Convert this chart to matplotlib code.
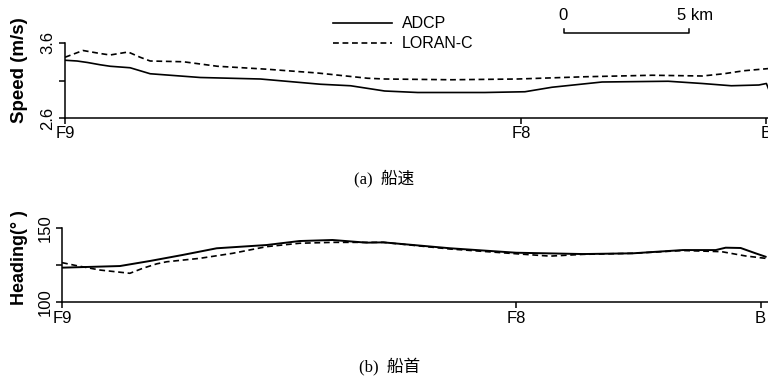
import matplotlib.pyplot as plt
import matplotlib.transforms as mtransforms
from matplotlib.lines import Line2D

plt.rcParams['font.family'] = ['Liberation Sans', 'Noto Sans CJK JP']

# distance along track from F9 (km)
station_pos = [0.0, 18.2, 28.0]
station_names = ['F9', 'F8', 'B']

# (a) ship speed, m/s
speed_km_adcp = [0.0, 0.48, 0.9, 1.4, 1.8, 2.2, 2.6, 2.9, 3.4, 5.4, 7.8, 10.2, 11.4,
                 12.76, 14.08, 16.76, 18.36, 19.44, 21.44, 24.08, 25.44, 26.6, 27.7,
                 28.0, 28.12]
speed_adcp = [3.37, 3.36, 3.34, 3.31, 3.29, 3.28, 3.27, 3.24, 3.19, 3.14, 3.12, 3.05, 3.03,
              2.96, 2.94, 2.94, 2.95, 3.01, 3.08, 3.09, 3.06, 3.03, 3.04,
              3.06, 2.96]
speed_km_loran = [0.0, 0.72, 1.4, 1.8, 2.52, 3.0, 3.4, 4.72, 6.08, 8.08, 10.08, 12.08,
                  12.76, 15.44, 18.08, 20.76, 23.44, 25.44, 26.3, 27.1, 28.12]
speed_loran = [3.41, 3.50, 3.46, 3.44, 3.48, 3.41, 3.36, 3.35, 3.29, 3.25, 3.20, 3.13,
               3.12, 3.11, 3.12, 3.15, 3.17, 3.16, 3.19, 3.23, 3.26]

# (b) ship heading, deg
head_km_adcp = [0.0, 2.32, 3.52, 4.84, 6.2, 8.2, 9.52, 10.84, 12.2, 12.88, 15.56, 18.2,
                20.88, 22.88, 24.88, 26.2, 26.6, 27.2, 27.8, 28.2]
head_adcp = [123.4, 124.5, 127.9, 132.0, 136.5, 138.7, 141.4, 142.1, 140.3, 140.5, 136.5,
             133.5, 132.6, 133.1, 135.3, 135.3, 136.9, 136.7, 133.1, 130.8]
head_km_loran = [0.0, 0.6, 1.52, 2.72, 3.24, 3.8, 4.2, 5.52, 6.84, 8.2, 9.52, 10.84, 12.88,
                 15.56, 18.2, 19.56, 20.88, 22.88, 24.88, 26.44, 27.4, 28.2]
head_loran = [126.8, 124.7, 121.8, 119.6, 123.0, 126.0, 127.4, 129.7, 133.1, 137.6, 139.9,
              140.5, 140.5, 136.0, 132.8, 131.2, 132.4, 133.1, 135.0, 134.2, 131.3, 129.7]

W, H = 768, 380


def fx(px):
    return px / W


def fy(py):
    return 1 - py / H


fig = plt.figure(figsize=(W / 100, H / 100), dpi=100)

xmax = 28.6
ax1 = fig.add_axes([fx(65), fy(118), xmax * 25.05 / W, 75 / H])
ax2 = fig.add_axes([fx(62), fy(302.3), xmax * 24.95 / W, 74 / H])

dash = (0, (3.5, 2.2))
for ax in (ax1, ax2):
    for s in ('top', 'right'):
        ax.spines[s].set_visible(False)
    for s in ('left', 'bottom'):
        ax.spines[s].set_linewidth(1.1)
    ax.set_xlim(0, xmax)
    ax.set_xticks(station_pos)
    ax.set_xticklabels(station_names, fontsize=12)
    ax.tick_params(direction='out', length=4, width=1.1, pad=2)
    ax.tick_params(axis='y', pad=3)

ax1.plot(speed_km_adcp, speed_adcp, color='black', lw=1.2)
ax1.plot(speed_km_loran, speed_loran, color='black', lw=1.2, linestyle=dash)
ax1.set_ylim(2.6, 3.6)
ax1.set_yticks([2.6, 3.1, 3.6])
ax1.set_yticklabels(['2.6', '', '3.6'], rotation=90, va='center', fontsize=12)

ax2.plot(head_km_adcp, head_adcp, color='black', lw=1.4)
ax2.plot(head_km_loran, head_loran, color='black', lw=1.2, linestyle=dash)
ax2.set_ylim(100, 150)
ax2.set_yticks([100, 125, 150])
ax2.set_yticklabels(['100', '', '150'], rotation=90, va='center', fontsize=12)

# axis titles
fig.text(fx(20), fy(70), 'Speed (m/s)', rotation=90, ha='center', va='center',
         fontsize=13.5, fontweight='bold')
fig.text(fx(20), fy(258), 'Heading(° )', rotation=90, ha='center', va='center',
         fontsize=13, fontweight='bold')

# legend
fig.add_artist(Line2D([fx(333), fx(392)], [fy(23), fy(23)], color='black', lw=1.2))
fig.add_artist(Line2D([fx(333), fx(392)], [fy(43), fy(43)], color='black', lw=1.2,
                      linestyle=dash))
fig.text(fx(402), fy(23), 'ADCP', ha='left', va='center', fontsize=11.5)
fig.text(fx(402), fy(44), 'LORAN-C', ha='left', va='center', fontsize=11.5)

# scale bar (5 km)
trans = mtransforms.blended_transform_factory(ax1.transData, fig.transFigure)
x0 = 19.92
ax1.plot([x0, x0, x0 + 5, x0 + 5], [fy(29), fy(33), fy(33), fy(29)], color='black',
         lw=1.1, transform=trans, clip_on=False)
fig.text(fx(563), fy(15), '0', ha='center', va='center', fontsize=12)
fig.text(fx(677), fy(15), '5 km', ha='left', va='center', fontsize=12)

# captions
cap_font = ['Liberation Serif', 'Noto Sans CJK JP']
fig.text(fx(384), fy(178), '(a)  船速', ha='center', va='center', fontsize=12,
         family=cap_font)
fig.text(fx(390), fy(366), '(b)  船首', ha='center', va='center', fontsize=12,
         family=cap_font)

fig.savefig('out.png', dpi=100)
